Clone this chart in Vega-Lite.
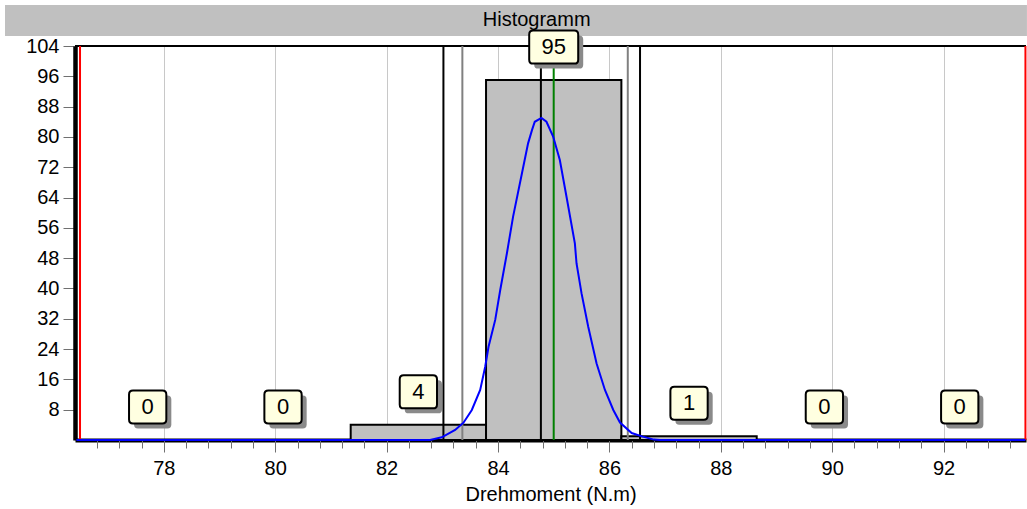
{
  "$schema": "https://vega.github.io/schema/vega-lite/v6.json",
  "width": 951,
  "height": 394,
  "autosize": {"type": "none"},
  "padding": {"left": 75, "top": 46, "right": 1, "bottom": 69},
  "background": "white",
  "config": {"view": {"stroke": null}, "font": "Liberation Sans"},
  "datasets": {
    "bins": [
      {"lo": 76.495, "hi": 78.925, "mid": 77.71, "count": 0},
      {"lo": 78.925, "hi": 81.355, "mid": 80.14, "count": 0},
      {"lo": 81.355, "hi": 83.785, "mid": 82.57, "count": 4},
      {"lo": 83.785, "hi": 86.215, "mid": 85.0, "count": 95},
      {"lo": 86.215, "hi": 88.645, "mid": 87.43, "count": 1},
      {"lo": 88.645, "hi": 91.075, "mid": 89.86, "count": 0},
      {"lo": 91.075, "hi": 93.505, "mid": 92.29, "count": 0}
    ],
    "curve": [
      {"moment": 76.43, "density": 0},
      {"moment": 82.78, "density": 0},
      {"moment": 82.99, "density": 0.71},
      {"moment": 83.23, "density": 2.64},
      {"moment": 83.38, "density": 4.57},
      {"moment": 83.53, "density": 7.92},
      {"moment": 83.68, "density": 13.2},
      {"moment": 83.77, "density": 19.35},
      {"moment": 83.83, "density": 24.6},
      {"moment": 83.95, "density": 31.7},
      {"moment": 84.04, "density": 39.6},
      {"moment": 84.16, "density": 49.3},
      {"moment": 84.27, "density": 58.9},
      {"moment": 84.43, "density": 70.4},
      {"moment": 84.54, "density": 78.3},
      {"moment": 84.61, "density": 81.8},
      {"moment": 84.66, "density": 84.0},
      {"moment": 84.78, "density": 85.0},
      {"moment": 84.87, "density": 84.0},
      {"moment": 84.99, "density": 80.1},
      {"moment": 85.11, "density": 73.9},
      {"moment": 85.23, "density": 64.2},
      {"moment": 85.38, "density": 51.9},
      {"moment": 85.41, "density": 46.6},
      {"moment": 85.5, "density": 38.7},
      {"moment": 85.62, "density": 29.9},
      {"moment": 85.77, "density": 20.2},
      {"moment": 85.92, "density": 13.2},
      {"moment": 86.07, "density": 7.92},
      {"moment": 86.19, "density": 4.6},
      {"moment": 86.4, "density": 1.85},
      {"moment": 86.6, "density": 0.9},
      {"moment": 86.8, "density": 0.1},
      {"moment": 86.91, "density": 0},
      {"moment": 93.47, "density": 0}
    ],
    "refs": [
      {"x": 76.495, "kind": "border"},
      {"x": 83.02, "kind": "limit"},
      {"x": 83.36, "kind": "sigma"},
      {"x": 84.77, "kind": "mean"},
      {"x": 85.0, "kind": "nominal"},
      {"x": 86.33, "kind": "sigma"},
      {"x": 86.55, "kind": "limit"},
      {"x": 93.47, "kind": "border"}
    ],
    "titles": [{"title": "Histogramm"}]
  },
  "resolve": {"axis": {"x": "independent", "y": "independent"}},
  "layer": [
    {
      "data": {"name": "titles"},
      "mark": {"type": "rect", "color": "#c0c0c0"},
      "encoding": {
        "x": {"datum": 75.148, "type": "quantitative", "scale": {"domain": [76.405, 93.48], "nice": false, "zero": false}, "axis": null},
        "x2": {"datum": 93.497},
        "y": {"datum": 114.84, "type": "quantitative", "scale": {"domain": [0, 104], "nice": false, "zero": false}, "axis": null},
        "y2": {"datum": 106.65}
      }
    },
    {
      "data": {"name": "titles"},
      "mark": {"type": "text", "fontSize": 20, "font": "Liberation Sans", "color": "black", "baseline": "middle", "align": "center"},
      "encoding": {
        "x": {"datum": 84.694, "type": "quantitative", "scale": {"domain": [76.405, 93.48], "nice": false, "zero": false}, "axis": null},
        "y": {"datum": 110.75, "type": "quantitative", "scale": {"domain": [0, 104], "nice": false, "zero": false}, "axis": null},
        "text": {"field": "title", "type": "nominal"}
      }
    },
    {
      "data": {"name": "bins"},
      "transform": [{"filter": "datum.count > 0"}],
      "mark": {"type": "rect", "fill": "#c0c0c0", "stroke": "black", "strokeWidth": 2},
      "encoding": {
        "x": {
          "field": "lo", "type": "quantitative",
          "scale": {"domain": [76.405, 93.48], "nice": false, "zero": false},
          "axis": {
            "orient": "bottom", "values": [78, 80, 82, 84, 86, 88, 90, 92], "format": "d",
            "title": "Drehmoment (N.m)", "titleFont": "Liberation Sans", "titleFontSize": 20, "titleFontWeight": "normal", "titleColor": "black", "titlePadding": 6,
            "grid": true, "gridColor": "#c8c8c8", "gridWidth": 1,
            "domain": true, "domainColor": "black", "domainWidth": 4,
            "ticks": true, "tickColor": "#707070", "tickSize": 12, "tickWidth": 1,
            "labelFont": "Liberation Sans", "labelFontSize": 20, "labelColor": "black", "labelPadding": 6, "labelFlush": false, "labelOverlap": false,
            "zindex": 0
          }
        },
        "x2": {"field": "hi"},
        "y": {
          "field": "count", "type": "quantitative",
          "scale": {"domain": [0, 104], "nice": false, "zero": false},
          "axis": {
            "values": [8, 16, 24, 32, 40, 48, 56, 64, 72, 80, 88, 96, 104], "title": null, "grid": false,
            "domain": true, "domainColor": "black", "domainWidth": 4.5,
            "ticks": true, "tickColor": "#707070", "tickSize": 12, "tickWidth": 1,
            "labelFont": "Liberation Sans", "labelFontSize": 20, "labelColor": "black", "labelPadding": 4, "labelFlush": false, "labelOverlap": false,
            "zindex": 0
          }
        },
        "y2": {"datum": 0}
      }
    },
    {
      "data": {"name": "titles"},
      "mark": {"type": "rule", "color": "black", "strokeWidth": 2},
      "encoding": {
        "y": {"datum": 104, "type": "quantitative", "scale": {"domain": [0, 104], "nice": false, "zero": false}, "axis": null}
      }
    },
    {
      "data": {"name": "refs"},
      "mark": {"type": "rule", "strokeWidth": 2},
      "encoding": {
        "x": {
          "field": "x", "type": "quantitative",
          "scale": {"domain": [76.405, 93.48], "nice": false, "zero": false},
          "axis": {
            "orient": "bottom",
            "values": [76.8, 77.2, 77.6, 78.0, 78.4, 78.8, 79.2, 79.6, 80.0, 80.4, 80.8, 81.2, 81.6, 82.0, 82.4, 82.8, 83.2, 83.6, 84.0, 84.4, 84.8, 85.2, 85.6, 86.0, 86.4, 86.8, 87.2, 87.6, 88.0, 88.4, 88.8, 89.2, 89.6, 90.0, 90.4, 90.8, 91.2, 91.6, 92.0, 92.4, 92.8, 93.2],
            "labels": false, "domain": false, "grid": false, "title": null,
            "ticks": true, "tickColor": "#707070", "tickSize": 8, "tickWidth": 1, "zindex": 0
          }
        },
        "color": {
          "field": "kind", "type": "nominal",
          "scale": {"domain": ["border", "limit", "sigma", "mean", "nominal"], "range": ["#ff0000", "#000000", "#808080", "#000000", "#008000"]},
          "legend": null
        }
      }
    },
    {
      "data": {"name": "curve"},
      "mark": {"type": "line", "color": "#0000ff", "strokeWidth": 2},
      "encoding": {
        "x": {"field": "moment", "type": "quantitative", "scale": {"domain": [76.405, 93.48], "nice": false, "zero": false}, "axis": null},
        "y": {"field": "density", "type": "quantitative", "scale": {"domain": [0, 104], "nice": false, "zero": false}, "axis": null}
      }
    },
    {
      "data": {"name": "bins"},
      "mark": {"type": "point", "filled": true, "fill": "#8a8a8a", "strokeWidth": 0, "opacity": 1, "size": 1089, "xOffset": 5, "yOffset": -28},
      "encoding": {
        "x": {"field": "mid", "type": "quantitative", "scale": {"domain": [76.405, 93.48], "nice": false, "zero": false}, "axis": null},
        "y": {"field": "count", "type": "quantitative", "scale": {"domain": [0, 104], "nice": false, "zero": false}, "axis": null},
        "shape": {
          "condition": {"test": "datum.count >= 10", "value": "M-1.245,-1L1.245,-1Q1.485,-1,1.485,-0.76L1.485,0.76Q1.485,1,1.245,1L-1.245,1Q-1.485,1,-1.485,0.76L-1.485,-0.76Q-1.485,-1,-1.245,-1Z"},
          "value": "M-0.89,-1L0.89,-1Q1.13,-1,1.13,-0.76L1.13,0.76Q1.13,1,0.89,1L-0.89,1Q-1.13,1,-1.13,0.76L-1.13,-0.76Q-1.13,-1,-0.89,-1Z"
        }
      }
    },
    {
      "data": {"name": "bins"},
      "mark": {"type": "point", "filled": true, "fill": "#ffffe1", "stroke": "#000000", "strokeWidth": 2, "opacity": 1, "size": 1089, "yOffset": -33},
      "encoding": {
        "x": {"field": "mid", "type": "quantitative", "scale": {"domain": [76.405, 93.48], "nice": false, "zero": false}, "axis": null},
        "y": {"field": "count", "type": "quantitative", "scale": {"domain": [0, 104], "nice": false, "zero": false}, "axis": null},
        "shape": {
          "condition": {"test": "datum.count >= 10", "value": "M-1.245,-1L1.245,-1Q1.485,-1,1.485,-0.76L1.485,0.76Q1.485,1,1.245,1L-1.245,1Q-1.485,1,-1.485,0.76L-1.485,-0.76Q-1.485,-1,-1.245,-1Z"},
          "value": "M-0.89,-1L0.89,-1Q1.13,-1,1.13,-0.76L1.13,0.76Q1.13,1,0.89,1L-0.89,1Q-1.13,1,-1.13,0.76L-1.13,-0.76Q-1.13,-1,-0.89,-1Z"
        }
      }
    },
    {
      "data": {"name": "bins"},
      "mark": {"type": "text", "font": "Liberation Sans", "fontSize": 22, "color": "black", "baseline": "middle", "align": "center", "yOffset": -33},
      "encoding": {
        "x": {"field": "mid", "type": "quantitative", "scale": {"domain": [76.405, 93.48], "nice": false, "zero": false}, "axis": null},
        "y": {"field": "count", "type": "quantitative", "scale": {"domain": [0, 104], "nice": false, "zero": false}, "axis": null},
        "text": {"field": "count", "type": "quantitative"}
      }
    }
  ]
}
